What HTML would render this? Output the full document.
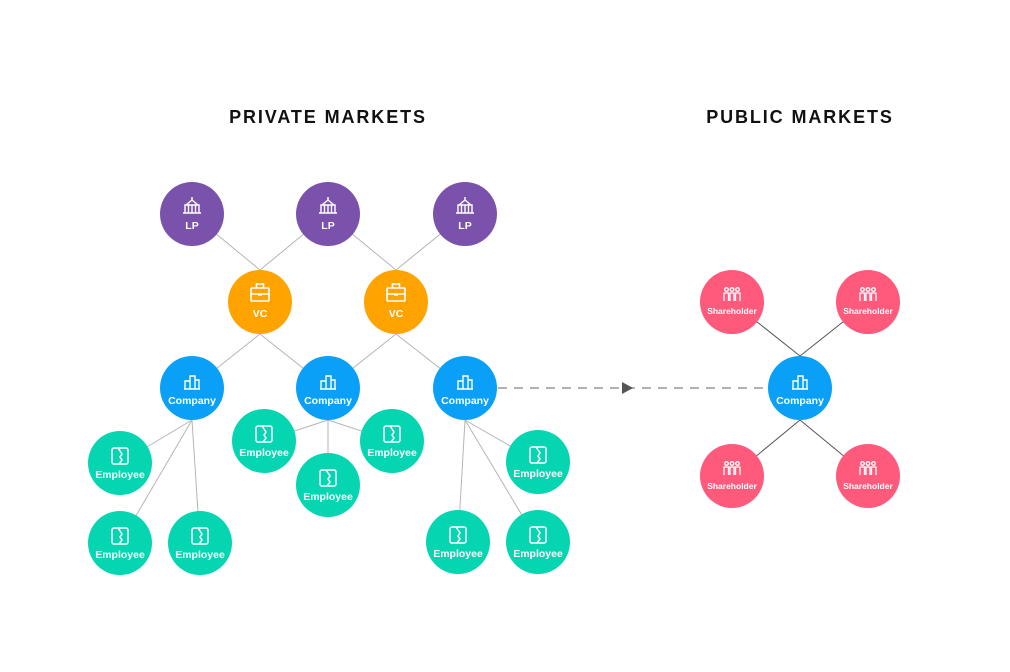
<!DOCTYPE html>
<html><head><meta charset="utf-8"><style>
html,body{margin:0;padding:0;background:#fff;}
svg{display:block;font-family:"Liberation Sans",sans-serif;}
.t{font-weight:bold;font-size:18px;letter-spacing:1.9px;fill:#111;}
.l{fill:#fff;font-weight:bold;text-anchor:middle;}
</style></head><body>
<svg width="1010" height="672" viewBox="0 0 1010 672" xmlns="http://www.w3.org/2000/svg">
<defs>
<g id="bld" fill="none" stroke="#fff" stroke-width="1.4"><path d="M-8,7 H8 M-7,7 V-1 H-2 V7 M-2,7 V-6 H3 V7 M3,7 V-2 H7 V7"/></g>
<g id="cap" fill="none" stroke="#fff" stroke-width="1.4"><path d="M-9,8 H9 M-7,8 V0 H7 V8 M-3.5,0 V8 M0,0 V8 M3.5,0 V8 M-6,0 L0,-5 L6,0 M0,-5 V-8"/></g>
<g id="bag" fill="none" stroke="#fff" stroke-width="1.6"><rect x="-9" y="-5" width="18" height="13" rx="1"/><path d="M-3.5,-5 V-9 H3.5 V-5 M-9,1 H9 M-2,2 H2"/></g>
<g id="emp" fill="none" stroke="#fff" stroke-width="1.5"><rect x="-8" y="-8" width="16" height="16" rx="2"/><path d="M-2,-8 L2,-2 L0,1 L2,4 L-1,8"/></g>
<g id="ppl" fill="none" stroke="#fff" stroke-width="1.3"><circle cx="-5.5" cy="-5.5" r="1.8"/><circle cx="0" cy="-5.5" r="1.8"/><circle cx="5.5" cy="-5.5" r="1.8"/><path d="M-8,6 V-2 H-3.5 V6 M-2,6 V-2 H2 V6 M3.5,6 V-2 H8 V6"/></g>
</defs>
<text class="t" x="328" y="123" text-anchor="middle">PRIVATE MARKETS</text>
<text class="t" x="800" y="123" text-anchor="middle">PUBLIC MARKETS</text>
<g stroke="#b5b5b5" stroke-width="1">
<line x1="192" y1="214" x2="260" y2="270"/><line x1="328" y1="214" x2="260" y2="270"/>
<line x1="328" y1="214" x2="396" y2="270"/><line x1="465" y1="214" x2="396" y2="270"/>
<line x1="192" y1="388" x2="260" y2="334"/><line x1="328" y1="388" x2="260" y2="334"/>
<line x1="328" y1="388" x2="396" y2="334"/><line x1="465" y1="388" x2="396" y2="334"/>
<line x1="192" y1="420" x2="120" y2="463"/><line x1="192" y1="420" x2="120" y2="543"/><line x1="192" y1="420" x2="200" y2="543"/>
<line x1="328" y1="420" x2="264" y2="441"/><line x1="328" y1="420" x2="392" y2="441"/><line x1="328" y1="420" x2="328" y2="485"/>
<line x1="465" y1="420" x2="538" y2="462"/><line x1="465" y1="420" x2="458" y2="542"/><line x1="465" y1="420" x2="538" y2="542"/>
</g>
<g stroke="#555" stroke-width="1">
<line x1="732" y1="302" x2="800" y2="356"/><line x1="868" y1="302" x2="800" y2="356"/>
<line x1="732" y1="476" x2="800" y2="420"/><line x1="868" y1="476" x2="800" y2="420"/>
</g>
<line x1="498" y1="388" x2="768" y2="388" stroke="#999" stroke-width="1.6" stroke-dasharray="9,7"/>
<path d="M622,382 L633,388 L622,394 Z" fill="#555"/>
<g fill="#7B52AB">
<circle cx="192" cy="214" r="32"/><circle cx="328" cy="214" r="32"/><circle cx="465" cy="214" r="32"/></g>
<g fill="#FFA300"><circle cx="260" cy="302" r="32"/><circle cx="396" cy="302" r="32"/></g>
<g fill="#0AA0F7"><circle cx="192" cy="388" r="32"/><circle cx="328" cy="388" r="32"/><circle cx="465" cy="388" r="32"/><circle cx="800" cy="388" r="32"/></g>
<g fill="#05D6B1">
<circle cx="120" cy="463" r="32"/><circle cx="264" cy="441" r="32"/><circle cx="392" cy="441" r="32"/><circle cx="328" cy="485" r="32"/><circle cx="538" cy="462" r="32"/><circle cx="120" cy="543" r="32"/><circle cx="200" cy="543" r="32"/><circle cx="458" cy="542" r="32"/><circle cx="538" cy="542" r="32"/></g>
<g fill="#FF5A7B"><circle cx="732" cy="302" r="32"/><circle cx="868" cy="302" r="32"/><circle cx="732" cy="476" r="32"/><circle cx="868" cy="476" r="32"/></g>
<g font-size="10.5" class="l">
<use href="#cap" x="192" y="205"/><text class="l" x="192" y="229">LP</text>
<use href="#cap" x="328" y="205"/><text class="l" x="328" y="229">LP</text>
<use href="#cap" x="465" y="205"/><text class="l" x="465" y="229">LP</text>
<use href="#bag" x="260" y="293"/><text class="l" x="260" y="317">VC</text>
<use href="#bag" x="396" y="293"/><text class="l" x="396" y="317">VC</text>
<use href="#bld" x="192" y="382"/><text class="l" x="192" y="404">Company</text>
<use href="#bld" x="328" y="382"/><text class="l" x="328" y="404">Company</text>
<use href="#bld" x="465" y="382"/><text class="l" x="465" y="404">Company</text>
<use href="#bld" x="800" y="382"/><text class="l" x="800" y="404">Company</text>
<use href="#emp" x="120" y="456"/><text class="l" x="120" y="478">Employee</text>
<use href="#emp" x="264" y="434"/><text class="l" x="264" y="456">Employee</text>
<use href="#emp" x="392" y="434"/><text class="l" x="392" y="456">Employee</text>
<use href="#emp" x="328" y="478"/><text class="l" x="328" y="500">Employee</text>
<use href="#emp" x="538" y="455"/><text class="l" x="538" y="477">Employee</text>
<use href="#emp" x="120" y="536"/><text class="l" x="120" y="558">Employee</text>
<use href="#emp" x="200" y="536"/><text class="l" x="200" y="558">Employee</text>
<use href="#emp" x="458" y="535"/><text class="l" x="458" y="557">Employee</text>
<use href="#emp" x="538" y="535"/><text class="l" x="538" y="557">Employee</text>
</g>
<g font-size="8.5" class="l">
<use href="#ppl" x="732" y="295"/><text class="l" x="732" y="314">Shareholder</text>
<use href="#ppl" x="868" y="295"/><text class="l" x="868" y="314">Shareholder</text>
<use href="#ppl" x="732" y="469"/><text class="l" x="732" y="489">Shareholder</text>
<use href="#ppl" x="868" y="469"/><text class="l" x="868" y="489">Shareholder</text>
</g>
</svg>
</body></html>
